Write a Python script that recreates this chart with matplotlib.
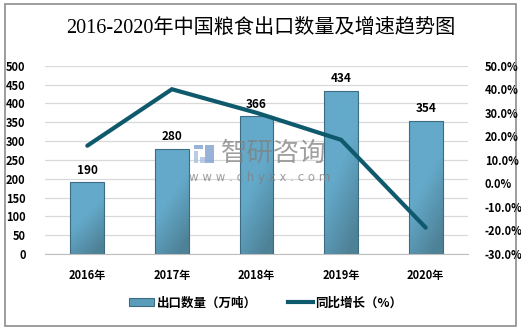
import numpy as np
import matplotlib
matplotlib.use("Agg")
import matplotlib.pyplot as plt
from matplotlib.colors import LinearSegmentedColormap
from matplotlib.patches import Rectangle, Patch
from matplotlib.lines import Line2D

plt.rcParams['font.family'] = ['Noto Sans CJK SC', 'DejaVu Sans']

# data
years = ['2016年', '2017年', '2018年', '2019年', '2020年']
export_qty = [190, 280, 366, 434, 354]          # 万吨
growth = [16.0, 40.0, 30.0, 18.5, -18.8]          # %
left_ticks = [0, 50, 100, 150, 200, 250, 300, 350, 400, 450, 500]
right_ticks = [-30, -20, -10, 0, 10, 20, 30, 40, 50]
right_labels = ['%.1f%%' % v for v in right_ticks]

bar_light = '#64a9c9'
bar_dark = '#4a7a8e'
bar_edge = '#3c6c82'
line_color = '#0f596c'

fig = plt.figure(figsize=(5.21, 3.30), dpi=100)
fig.patches.append(Rectangle((5 / 521, 4 / 330), 511 / 521, 322 / 330,
                             transform=fig.transFigure, fill=False,
                             edgecolor='#8c8c8c', linewidth=1.2))

ax = fig.add_axes([45 / 521, 1 - 254 / 330, 423 / 521, 188.3 / 330])
ax2 = ax.twinx()
ax.set_zorder(1)
ax2.set_zorder(2)
ax.patch.set_visible(False)

x = np.arange(len(years))
bars = ax.bar(x, export_qty, width=0.4, color='none', edgecolor=bar_edge,
              linewidth=0.8, zorder=3)

# gradient fill for each bar
cmap = LinearSegmentedColormap.from_list('g', [bar_light, bar_dark])
gx, gy = np.meshgrid(np.linspace(0, 1, 40), np.linspace(0, 1, 80))
grad = np.clip((0.55 - gy) * 1.3 + (gx - 0.5) * 0.6, 0, 0.85)
for b in bars:
    x0, y0, w, h = b.get_x(), b.get_y(), b.get_width(), b.get_height()
    im = ax.imshow(grad, cmap=cmap, vmin=0, vmax=1, origin='lower',
                   extent=[x0, x0 + w, y0, y0 + h], aspect='auto', zorder=2)
    im.set_clip_path(b)
    ax.annotate(str(int(h)), (x0 + w / 2, h), xytext=(0, 4),
                textcoords='offset points', ha='center', va='bottom',
                fontsize=8.5, fontweight='bold', color='black', zorder=5)

ax.set_xlim(-0.5, len(years) - 0.5)
ax.set_ylim(0, 500)
ax.set_yticks(left_ticks)
ax.set_xticks(x)
ax.set_xticklabels(years)
ax.grid(axis='y', color='#d9d9d9', linewidth=0.9, zorder=0)
ax.set_axisbelow(True)
for s in ['top', 'left', 'right']:
    ax.spines[s].set_visible(False)
ax.spines['bottom'].set_color('#bfbfbf')
ax.tick_params(axis='y', length=0, pad=14, labelsize=8)
ax.tick_params(axis='x', length=0, pad=11, labelsize=8)
for lbl in ax.get_yticklabels() + ax.get_xticklabels():
    lbl.set_fontweight('bold')

ax2.plot(x, growth, color=line_color, linewidth=3, solid_capstyle='round',
         solid_joinstyle='miter', zorder=4)
ax2.set_ylim(-30, 50)
ax2.set_yticks(right_ticks)
ax2.set_yticklabels(right_labels)
ax2.tick_params(axis='y', length=0, pad=12, labelsize=8)
for lbl in ax2.get_yticklabels():
    lbl.set_fontweight('bold')
for s in ax2.spines.values():
    s.set_visible(False)

# watermark
for (lx, ly, lw, lh, c) in [(194, 145, 9, 4, '#7f9fcf'), (194, 151, 4, 12, '#a9bedf'),
                            (205, 145, 9, 18, '#7f9fcf'), (200, 157, 5, 6, '#a9bedf')]:
    fig.patches.append(Rectangle((lx / 521, 1 - (ly + lh) / 330), lw / 521, lh / 330,
                                 transform=fig.transFigure, facecolor=c,
                                 edgecolor='none', alpha=0.8, zorder=10))
fig.text(274 / 521, 1 - 153 / 330, '智研咨询', fontsize=19, color='#808080',
         alpha=0.75, ha='center', va='center', zorder=10)
fig.text(260 / 521, 1 - 178 / 330, 'w w w . c h y x x . c o m', fontsize=8.5,
         color='#808080', alpha=0.75, ha='center', va='center', zorder=10,
         family='DejaVu Sans')

fig.text(0.5, 0.915, '2016-2020年中国粮食出口数量及增速趋势图',
         family=['Liberation Serif', 'Noto Sans CJK SC'], fontsize=14.5,
         ha='center', va='center', color='black')

handles = [Patch(facecolor='#5a9cba', edgecolor=bar_edge, linewidth=0.8),
           Line2D([0], [0], color=line_color, linewidth=3)]
fig.legend(handles, ['出口数量（万吨）', '同比增长（%）'], loc='center',
           bbox_to_anchor=(0.51, 0.082), ncol=2, frameon=False,
           prop={'size': 9, 'weight': 'bold'}, handlelength=2.0,
           handleheight=0.5, columnspacing=2.5, handletextpad=0.2)

fig.savefig('out.png', dpi=100)
